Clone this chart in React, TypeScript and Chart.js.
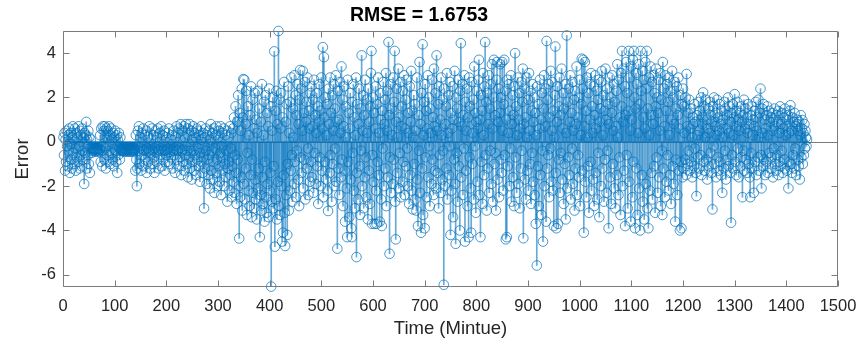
import React, { useEffect, useRef } from "react";
import { Chart, registerables } from "chart.js";

Chart.register(...registerables);

const titleText = "RMSE = 1.6753";
const xLabel = "Time (Mintue)";
const yLabel = "Error";
const xTickValues = [0, 100, 200, 300, 400, 500, 600, 700, 800, 900, 1000, 1100, 1200, 1300, 1400, 1500];
const yTickValues = [-6, -4, -2, 0, 2, 4];

// minutes 1-120
const errA = [
  0.2, -0.6, 0.4, -1.3, 0.1, -0.9, 0.5, -0.2, -1.1, 0.3,
  -0.4, 0.6, -1.4, -0.1, 0.4, -0.8, 0.2, -1.2, 0.7, -0.5,
  0.1, -1.0, 0.6, -0.3, -1.3, 0.4, -0.7, 0.2, -0.9, 0.7,
  -0.2, -1.2, 0.5, -0.6, 0.3, -1.1, 0.6, -0.4, -0.8, 0.2,
  -1.9, 0.4, -0.5, 0.3, 0.9, -1.2, 0.1, -0.6, 0.5, -1.0,
  0.2, -1.4, -0.3, 0.1, -0.5, -0.3, -0.4, -0.3, -0.35, -0.4,
  -0.3, -0.45, -0.35, -0.3, -0.4, -0.35, -0.3, -0.45, -0.4, -0.3,
  -0.35, 0.3, -0.9, 0.6, -0.4, -1.1, 0.7, -0.2, 0.5, -0.8,
  0.7, -0.3, -1.2, 0.6, 0.2, -0.6, 0.5, -0.9, 0.7, -0.4,
  0.3, -1.0, 0.6, -0.5, 0.1, -0.8, 0.4, -1.1, 0.2, -0.35,
  0.5, -0.4, -0.9, 0.3, -1.4, 0.1, -0.6, 0.4, -0.3, -0.8,
  0.2, -0.4, -0.35, -0.3, -0.4, -0.35, -0.3, -0.45, -0.4, -0.35,
];
// minutes 121-240
const errB = [
  -0.3, -0.4, -0.35, -0.45, -0.3, -0.4, -0.35, -0.3, -0.4, -0.45,
  -0.35, -0.3, -0.4, -0.35, -0.45, -0.3, -0.4, -0.35, -0.3, -1.3,
  0.3, -0.8, -2.0, -1.2, 0.5, -0.4, 0.7, -1.0, -0.3, 0.2,
  -1.3, 0.4, -0.6, -0.35, 0.6, -1.1, -0.4, 0.3, -0.8, -0.35,
  0.5, -1.4, -0.3, 0.2, -0.9, -0.4, 0.7, -0.5, -1.2, 0.1,
  -0.35, 0.6, -1.0, -0.4, 0.3, -0.7, -1.4, -0.3, 0.5, -0.45,
  -0.9, 0.2, -0.35, 0.6, -1.2, -0.4, 0.4, -0.6, -0.3, 0.7,
  -1.1, -0.4, 0.3, -0.8, -0.35, 0.5, -1.3, -0.4, 0.2, -0.6,
  -0.35, 0.4, -0.9, -0.3, 0.6, -1.0, -0.45, 0.1, -0.7, -0.35,
  0.3, -1.2, -0.4, 0.5, -0.6, -0.3, -1.4, 0.2, -0.35, 0.7,
  -0.8, -0.4, 0.4, -1.1, 0.6, -0.3, -0.7, 0.8, -1.5, -0.4,
  0.5, -0.9, -0.35, 0.7, -1.3, 0.2, -0.6, 0.8, -1.0, -0.4,
];
// minutes 241-360
const errC = [
  0.6, -1.6, 0.3, -0.7, 0.8, -1.2, -0.4, 0.5, -1.7, 0.1,
  -0.9, 0.7, -0.4, -1.3, 0.4, -0.6, 0.2, -1.5, 0.6, -0.8,
  -0.3, 0.5, -1.1, 0.3, -1.8, -0.5, 0.7, -0.9, 0.1, -1.4,
  0.4, -0.7, -3.0, 0.2, -1.2, 0.6, -0.4, -1.9, 0.3, -0.8,
  -1.5, 0.5, -0.6, -2.1, 0.1, 0.8, -1.3, -0.4, 0.4, -1.7,
  -0.9, 0.6, -2.3, -0.3, 0.3, -1.4, 0.7, -0.8, -2.0, 0.2,
  -1.1, 0.5, -1.8, -0.5, 0.7, -2.4, -0.2, 0.4, -1.3, -0.7,
  0.6, -2.0, -1.0, 0.3, -1.6, -0.4, 0.5, -2.7, -1.2, 0.2,
  -0.9, -2.2, 0.7, -1.5, -0.3, 0.4, -2.5, -1.1, 0.6, -1.8,
  1.1, -2.3, -0.6, 1.6, -1.4, -2.8, 0.9, -0.8, 2.1, -2.0,
  -4.36, 1.3, -2.5, 0.5, -1.6, 2.4, -3.1, 1.1, 2.83, -1.9,
  2.8, -2.6, 0.8, -1.2, 2.3, -3.3, -0.5, 1.6, -2.2, 0.3,
];
// minutes 361-480
const errD = [
  -2.9, 1.2, -1.5, 2.5, -3.4, -0.8, 1.9, -2.3, 0.6, -3.0,
  2.2, -1.7, -2.6, 1.0, -3.5, 0.4, 2.3, -2.1, -1.2, 1.5,
  -4.3, -2.4, 0.9, -3.1, 2.6, -1.6, -2.8, 0.3, 1.8, -3.6,
  -0.9, 2.1, -2.5, -3.2, 1.3, -1.9, 0.7, -3.4, 2.4, -2.2,
  -1.4, 1.6, -6.53, -2.7, 0.5, 2.0, -3.0, -1.1, 4.08, -4.73,
  1.4, -2.6, 2.3, -3.5, 0.8, -1.8, 5.0, -2.9, 1.9, -3.3,
  0.6, 2.2, -2.0, -4.5, 1.1, -4.1, -1.5, 2.7, -3.2, -4.7,
  0.9, -2.4, 1.7, -4.2, -1.0, 2.5, -3.1, 0.4, -2.2, 1.8,
  -1.3, 2.9, -0.6, -2.7, 1.5, 0.2, -1.9, 3.0, -0.9, 2.1,
  -2.5, 1.2, -0.4, 2.6, -1.7, 0.8, -2.9, 1.9, 3.24, -0.7,
  2.4, -1.4, 0.5, 3.2, -2.1, 1.3, -0.8, 2.7, -2.6, 0.9,
  1.8, -1.2, 2.9, -0.3, -2.4, 1.4, 0.6, -1.8, 2.2, -0.9,
];
// minutes 481-600
const errE = [
  2.5, -1.6, 0.7, 1.9, -2.3, 2.8, -0.5, 1.2, -1.9, 0.4,
  2.2, -1.1, 1.6, -2.8, 0.9, 2.6, -0.7, 1.4, -2.0, 2.9,
  -1.3, 0.6, 4.27, -2.5, 3.82, 1.1, -0.9, 2.0, -1.7, 0.3,
  1.7, -2.2, -3.12, 2.4, 0.8, -1.4, 2.9, -0.6, 1.3, -2.7,
  2.1, -1.0, 0.5, 2.6, -2.0, 1.5, -0.3, 3.0, -1.8, 0.9,
  -4.82, 2.3, -1.2, 1.0, -2.4, 2.7, 0.4, -1.6, 3.4, -0.8,
  1.9, -2.9, 0.7, 2.5, -1.3, -3.6, 1.6, 0.2, -2.1, -4.3,
  2.8, -0.9, 1.3, -3.4, 0.6, 2.2, -1.7, -3.9, -4.3, 1.8,
  -0.5, 2.6, -2.2, 1.1, -3.0, 0.3, 2.9, -5.2, -1.4, 1.7,
  -2.6, 0.8, 2.4, -1.1, -3.3, 1.5, -0.4, 3.9, -2.0, 0.5,
  2.1, -3.0, 1.2, -1.6, 2.8, -0.7, -2.5, 1.9, 0.4, -3.5,
  2.4, -1.3, 0.9, -2.8, 1.6, 3.1, 4.1, -3.7, -0.6, 2.0,
];
// minutes 601-720
const errF = [
  -1.8, 1.3, -3.7, 0.6, 2.5, -2.2, -3.7, 1.7, -0.9, 2.9,
  -1.5, 0.4, -3.6, 2.2, 1.0, -2.6, -3.8, 1.4, -0.3, 2.7,
  -2.0, 0.8, 1.9, -1.2, 3.1, -2.9, 0.5, 2.3, -1.6, 4.5,
  1.2, -5.05, -0.7, 2.6, -2.3, 1.5, 0.3, -1.9, 2.9, -0.8,
  1.8, 4.1, -2.7, -4.4, 0.9, 2.4, -1.4, 0.2, 3.3, -2.1,
  1.1, -0.5, 2.7, -2.5, 0.7, 1.6, -1.8, 2.3, -0.9, 3.0,
  -2.4, 0.6, 1.9, -1.1, 2.8, -0.3, -2.0, 1.3, 0.4, -2.8,
  2.5, -1.5, 0.9, 3.2, -2.2, 1.4, -3.05, 0.2, 2.1, -1.0,
  1.7, -2.6, 0.5, -3.1, 2.9, -1.7, -3.8, 1.2, -0.4, 3.6,
  -2.3, 0.8, -4.1, 2.2, -1.2, 4.4, -3.3, 0.3, 1.8, -3.9,
  2.6, -0.7, 1.4, -2.5, 0.6, 3.0, -1.6, 2.0, -0.2, -2.9,
  1.5, 0.4, -1.9, 2.8, -0.8, 1.1, -2.4, 3.3, 0.7, -1.3,
];
// minutes 721-840
const errG = [
  2.2, -2.1, 3.9, 0.5, -1.4, 1.7, -3.0, 2.5, -0.6, 1.0,
  -2.3, 2.9, 0.3, -1.7, 1.9, -0.4, -6.45, 2.4, -2.0, 0.8,
  1.6, -1.2, 3.1, -2.6, 0.4, 2.1, -1.5, -0.2, 2.7, -4.2,
  1.3, -2.2, 0.6, 2.5, -3.4, 1.0, -0.8, 3.2, -1.9, -4.6,
  2.0, -0.5, 1.5, -2.7, 2.8, -1.1, 0.9, -4.0, 2.3, 4.45,
  -1.6, 0.7, 2.6, -2.4, 1.2, -0.3, 3.0, -4.5, 1.8, -1.3,
  0.5, 2.4, -2.9, 1.1, -4.3, 2.9, -0.7, 1.6, -2.1, -4.1,
  2.7, -1.0, 0.4, 1.9, -2.6, 3.4, -0.2, 1.3, -3.2, 0.9,
  2.3, -1.8, 0.6, 2.8, 3.7, -2.4, 1.0, -4.3, 2.1, -0.9,
  1.4, -2.8, 3.1, 0.3, -1.5, 2.5, 4.5, -0.6, 1.8, -3.1,
  2.2, -1.2, 0.8, 3.0, -2.3, 1.5, -0.4, 2.6, -1.9, 3.5,
  0.6, -2.7, 2.0, 3.7, -1.0, 1.2, -0.5, -3.1, 2.8, 3.6,
];
// minutes 841-960
const errH = [
  -1.7, 0.9, 2.4, -2.5, 1.3, 3.5, -0.8, 2.0, -1.4, 3.6,
  0.5, -2.2, 1.7, 3.7, -0.6, 2.3, -4.4, 1.0, -4.3, 2.8,
  -1.1, 0.4, 2.6, -2.0, 1.4, -0.3, 3.0, -2.7, 0.8, 2.1,
  -1.6, 1.2, -2.9, 2.5, 4.0, -0.7, 1.6, -2.3, 0.3, 2.9,
  -1.9, 1.0, 2.2, -3.0, 0.6, -1.2, 2.7, -0.4, 1.8, 3.3,
  -4.35, 0.8, 2.4, -1.7, 1.1, -2.6, 2.9, 0.2, -1.3, 1.9,
  -2.2, 3.1, 0.5, -1.0, 2.3, -2.8, 1.4, -0.5, 2.6, -1.8,
  0.9, 2.0, -2.4, 1.3, -3.7, 0.3, -5.58, 2.5, -1.1, 1.7,
  -2.9, 0.6, 2.8, -1.5, 1.0, -3.3, 2.2, -0.4, -4.5, 1.5,
  3.0, -2.0, 0.7, 2.4, -3.6, 4.55, -1.2, 1.9, -0.6, 2.6,
  -2.5, 1.1, -0.3, 3.2, -1.8, 0.5, 2.7, -2.2, 1.4, -3.8,
  0.2, 2.1, 4.3, -1.4, -3.9, 0.9, 2.5, -3.7, 1.6, -0.8,
];
// minutes 961-1080
const errI = [
  2.9, -2.3, 1.2, -0.5, 3.3, -1.7, 0.6, 2.2, -2.8, 1.5,
  -1.0, 2.6, -3.5, 0.4, 4.8, -2.1, 1.8, -0.7, 2.4, -1.5,
  0.9, 3.0, -2.6, 1.3, -0.3, 2.7, -1.9, 0.5, 1.9, -3.1,
  2.3, -1.2, 0.8, 3.4, -2.4, 1.1, -0.6, 2.0, -1.6, 2.8,
  -2.9, 0.3, 1.7, 3.75, -1.3, 2.4, 3.7, -4.1, 0.7, 3.6,
  -1.8, 1.4, -2.5, 2.9, 0.2, -1.1, 2.2, -3.2, 1.0, 2.6,
  -0.9, 3.1, -2.2, 1.6, 0.4, -1.7, 2.5, -2.9, 1.2, 3.0,
  -1.4, 0.6, 2.3, -2.6, 1.9, -0.5, 2.8, -3.4, 0.9, 1.5,
  -2.0, 2.7, 3.2, -1.2, 0.3, 2.1, -2.7, 1.4, -0.8, 3.3,
  1.0, -2.3, 2.4, -0.4, 1.7, -3.9, 0.8, 2.9, -1.6, 2.0,
  -2.8, 1.3, 3.0, -1.0, 0.5, 2.6, -2.1, 1.8, -3.0, 0.7,
  2.3, -1.5, 3.5, 0.2, -2.4, 2.8, -0.7, 1.1, -3.3, 3.1,
];
// minutes 1081-1200
const errJ = [
  1.6, 4.1, -2.0, 0.9, 3.3, -1.3, 2.5, -3.8, 1.2, 3.6,
  -0.6, 2.2, -3.0, 1.4, 4.1, -1.8, 2.9, 0.5, -3.6, 3.4,
  1.0, -2.5, 3.7, -0.9, 4.1, 2.0, -3.9, 1.5, 3.1, -1.2,
  2.6, -3.3, 0.4, 3.5, -2.1, 1.7, -4.0, 4.1, 2.3, -1.5,
  3.2, -2.7, 1.1, 2.8, -3.5, 0.6, 3.6, -1.9, 2.4, 4.1,
  -3.0, 1.5, -3.9, 2.9, 0.3, -2.2, 3.4, 1.2, -1.4, 2.7,
  -2.6, 0.8, 3.0, -1.1, 2.2, -3.2, 1.6, 3.3, -0.7, 2.0,
  -2.3, 1.3, 2.8, -1.6, 0.5, 3.1, -2.9, 1.9, -0.4, -3.3,
  3.6, -1.2, 2.4, 0.7, -2.5, 3.0, 1.4, -1.8, 2.6, -0.6,
  1.8, -2.2, 2.9, 0.3, -1.5, 2.3, -2.8, 1.0, 3.2, -1.1,
  2.0, -1.9, 0.8, 2.7, -3.6, 1.5, -0.8, 2.5, -2.4, 1.2,
  2.9, -1.3, 0.6, -4.0, 2.1, -0.9, -3.9, 1.7, -1.6, 2.4,
];
// minutes 1201-1320
const errK = [
  -1.2, 1.6, 0.4, -0.8, 2.0, -1.5, 3.06, 0.7, -1.0, 1.3,
  -0.4, 1.9, -1.3, 0.6, 1.5, -0.9, 0.2, -1.6, 1.1, 0.8,
  -1.1, 1.7, -0.3, 0.9, -1.4, -2.45, 1.2, 0.3, -0.7, 1.8,
  -1.2, 0.5, 1.4, -0.6, 2.0, -1.5, 0.8, 1.1, 2.23, -0.9,
  1.6, -1.3, 0.2, 1.9, -0.8, 1.0, -1.7, 0.6, 1.5, -1.1,
  0.4, 1.8, -0.5, 1.2, -1.4, 0.9, -3.05, 1.6, -0.2, 2.0,
  -1.0, 0.7, 1.3, -1.6, 0.3, 1.9, -0.7, 1.1, -1.3, 0.5,
  1.7, -0.9, 0.8, -1.5, 1.4, -2.3, 0.2, 1.0, -1.2, 1.8,
  -0.4, 1.5, -1.7, 0.6, 1.2, -0.8, 2.0, -1.1, 0.4, 1.6,
  -1.4, 0.9, -3.65, 1.3, -0.6, 1.7, -1.2, 0.3, 1.1, 2.15,
  -0.9, 1.4, -1.5, 0.7, 1.8, -0.3, 1.0, -1.6, 0.5, 1.3,
  -1.1, 1.6, -0.7, 0.9, -2.5, 1.2, -0.4, 1.9, -1.3, 0.6,
];
// minutes 1321-1440
const errL = [
  1.5, -0.8, 1.1, -1.4, 0.4, 1.7, -1.0, 0.8, -1.6, -2.5,
  1.2, -0.5, 1.6, -1.2, 0.3, 1.0, -2.3, 0.7, 1.4, -0.9,
  1.8, -1.5, 0.5, 1.1, -0.7, 1.9, -1.3, 0.2, 1.3, 2.4,
  -0.6, -2.1, 1.5, 0.4, -1.1, 1.7, -0.8, 1.0, -1.5, 0.6,
  1.2, -0.9, 1.6, -1.4, 0.3, 1.4, -0.5, 0.9, -1.2, 1.1,
  -0.7, 1.3, 0.5, -1.6, 1.0, -0.3, 1.5, -1.0, 0.7, -1.3,
  1.2, -0.6, 0.9, 1.4, -1.5, 0.4, -0.9, 1.6, -1.1, 0.8,
  -0.4, 1.3, -1.4, 0.6, 1.1, -0.8, 1.5, -1.2, 0.3, 1.0,
  -1.3, 0.7, 1.2, -2.1, 0.4, -0.9, 1.4, 1.65, -1.0, 0.5,
  -1.4, 1.1, -0.6, 0.9, -1.2, 1.3, -0.3, 0.7, -1.5, 0.8,
  1.0, -0.8, 0.5, -1.1, 0.9, -1.7, 0.3, 1.2, -0.7, 0.6,
  0.98, -1.0, 0.4, -0.6, 0.8, -0.3, 0.5, 0.2, -0.2, 0.1,
];

const errors = [...errA, ...errB, ...errC, ...errD, ...errE, ...errF, ...errG, ...errH, ...errI, ...errJ, ...errK, ...errL];
const points = errors.map((v, i) => ({ x: i + 1, y: v }));

const AXIS_GRAY = "#7a7a7a";
const TEXT = "#262626";
const FONT = "'Liberation Sans', Arial, Helvetica, sans-serif";

const matlabAxes = {
  id: "matlabAxes",
  beforeDatasetsDraw(chart: any) {
    const { ctx, chartArea: a, scales } = chart;
    const y0 = Math.round(scales.y.getPixelForValue(0)) + 0.5;
    ctx.save();
    ctx.strokeStyle = AXIS_GRAY;
    ctx.lineWidth = 1;
    ctx.beginPath();
    ctx.moveTo(a.left, y0);
    ctx.lineTo(a.right, y0);
    ctx.stroke();
    ctx.restore();
  },
  afterDraw(chart: any) {
    const { ctx, chartArea: a, scales } = chart;
    const L = Math.round(a.left) + 0.5;
    const R = Math.round(a.right) - 0.5;
    const T = Math.round(a.top) + 0.5;
    const B = Math.round(a.bottom) - 0.5;
    const len = 6;
    ctx.save();
    ctx.strokeStyle = AXIS_GRAY;
    ctx.lineWidth = 1;
    ctx.beginPath();
    ctx.rect(L, T, R - L, B - T);
    for (const v of xTickValues) {
      const px = Math.round(scales.x.getPixelForValue(v)) + 0.5;
      ctx.moveTo(px, B);
      ctx.lineTo(px, B - len);
      ctx.moveTo(px, T);
      ctx.lineTo(px, T + len);
    }
    for (const v of yTickValues) {
      const py = Math.round(scales.y.getPixelForValue(v)) + 0.5;
      ctx.moveTo(L, py);
      ctx.lineTo(L + len, py);
      ctx.moveTo(R, py);
      ctx.lineTo(R - len, py);
    }
    ctx.stroke();
    ctx.restore();
  },
};

export default function App() {
  const ref = useRef<HTMLCanvasElement | null>(null);

  useEffect(() => {
    if (!ref.current) return;
    const chart = new Chart(ref.current, {
      type: "bar",
      data: {
        datasets: [
          {
            type: "bar",
            data: points,
            backgroundColor: "rgba(0,114,189,0.6)",
            borderWidth: 0,
            barThickness: 1,
            grouped: false,
            order: 2,
          } as any,
          {
            type: "scatter",
            data: points,
            showLine: false,
            pointStyle: "circle",
            pointRadius: 4.8,
            pointBorderWidth: 0.9,
            pointBackgroundColor: "rgba(0,0,0,0)",
            pointBorderColor: "rgba(0,114,189,0.8)",
            clip: 8,
            order: 1,
          } as any,
        ],
      },
      options: {
        responsive: false,
        animation: false,
        devicePixelRatio: 1,
        layout: { padding: { left: 0, right: 23, top: 0, bottom: 0 } },
        plugins: {
          legend: { display: false },
          tooltip: { enabled: false },
          title: {
            display: true,
            text: titleText,
            color: "#000",
            font: { family: FONT, size: 19.5, weight: "bold", lineHeight: 1.2 },
            padding: { top: 3.5, bottom: 4.1 },
          },
        },
        scales: {
          x: {
            type: "linear",
            min: 0,
            max: 1500,
            offset: false,
            grid: { display: false, drawTicks: false },
            border: { display: false },
            afterBuildTicks: (s: any) => {
              s.ticks = xTickValues.map((v) => ({ value: v }));
            },
            afterFit: (s: any) => {
              s.height = 57;
              s.paddingLeft = 0;
              s.paddingRight = 0;
            },
            ticks: {
              autoSkip: false,
              maxRotation: 0,
              padding: 10,
              color: TEXT,
              font: { family: FONT, size: 16.5 },
              callback: (v: any) => String(v),
            },
            title: {
              display: true,
              text: xLabel,
              color: TEXT,
              font: { family: FONT, size: 18.5, lineHeight: 1.2 },
              padding: { top: 0, bottom: 3.9 },
            },
          },
          y: {
            type: "linear",
            min: -6.55,
            max: 5,
            grid: { display: false, drawTicks: false },
            border: { display: false },
            afterBuildTicks: (s: any) => {
              s.ticks = yTickValues.map((v) => ({ value: v }));
            },
            afterFit: (s: any) => {
              s.width = 63;
              s.paddingTop = 0;
              s.paddingBottom = 0;
            },
            ticks: {
              padding: 7,
              color: TEXT,
              font: { family: FONT, size: 16.5 },
              callback: (v: any) => String(v),
            },
            title: {
              display: true,
              text: yLabel,
              color: TEXT,
              font: { family: FONT, size: 18.5, lineHeight: 1.2 },
              padding: { top: 11.9, bottom: 0 },
            },
          },
        },
      } as any,
      plugins: [matlabAxes],
    });
    return () => chart.destroy();
  }, []);

  return (
    <div style={{ position: "absolute", left: 0, top: 0, width: 861, height: 344, background: "#fff" }}>
      <canvas ref={ref} width={861} height={344} style={{ width: 861, height: 344 }} />
    </div>
  );
}
